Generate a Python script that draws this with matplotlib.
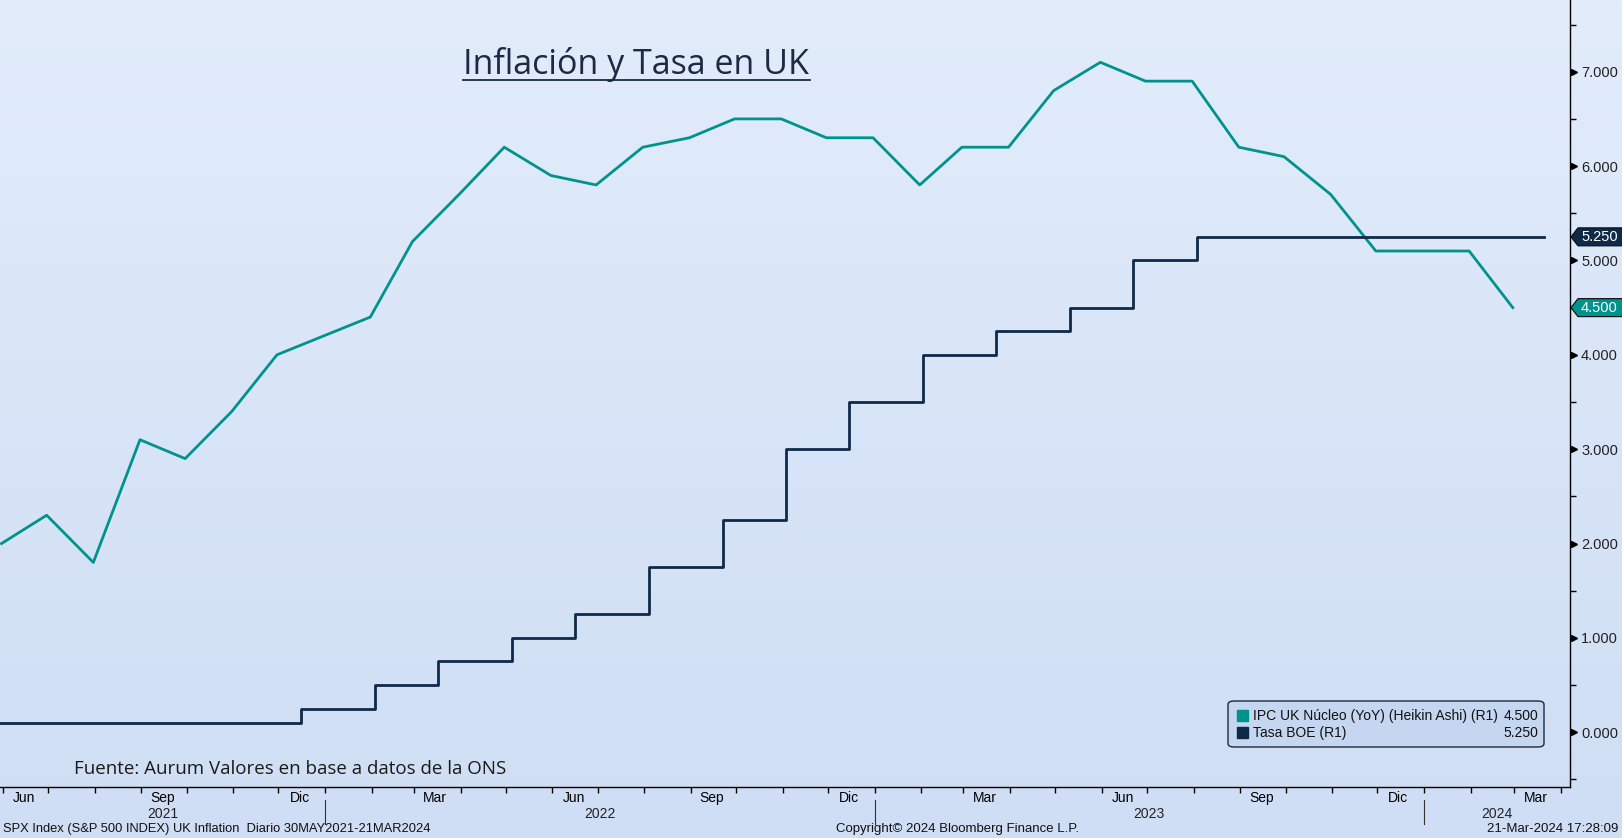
import numpy as np
import pandas as pd
import matplotlib
matplotlib.use("Agg")
import matplotlib.pyplot as plt
import matplotlib.dates as mdates
import matplotlib.transforms as mtransforms
from matplotlib.patches import Polygon, FancyBboxPatch

# ---- data -------------------------------------------------------------
cpi_dates = pd.date_range("2021-05-31", "2024-02-29", freq="ME")
cpi_vals = [2.0, 2.3, 1.8, 3.1, 2.9, 3.4, 4.0, 4.2,
            4.4, 5.2, 5.7, 6.2, 5.9, 5.8, 6.2, 6.3, 6.5, 6.5, 6.3, 6.3,
            5.8, 6.2, 6.2, 6.8, 7.1, 6.9, 6.9, 6.2, 6.1, 5.7, 5.1, 5.1,
            5.1, 4.5]

boe_dates = pd.to_datetime(["2020-03-19", "2021-12-16", "2022-02-03", "2022-03-17",
                            "2022-05-05", "2022-06-16", "2022-08-04", "2022-09-22",
                            "2022-11-03", "2022-12-15", "2023-02-02", "2023-03-23",
                            "2023-05-11", "2023-06-22", "2023-08-03", "2024-03-21"])
boe_vals = [0.1, 0.25, 0.5, 0.75, 1.0, 1.25, 1.75, 2.25, 3.0, 3.5, 4.0, 4.25,
            4.5, 5.0, 5.25, 5.25]

month_names = {3: "Mar", 6: "Jun", 9: "Sep", 12: "Dic"}
years = [2021, 2022, 2023, 2024]

teal = "#00938c"
navy = "#0f2a48"
W, H = 1622, 838
sans = "Liberation Sans"

fig = plt.figure(figsize=(W / 100, H / 100), dpi=100)

# gradient background
bg = fig.add_axes([0, 0, 1, 1], zorder=-10)
grad = np.linspace(0, 1, 256).reshape(-1, 1)
top_c = np.array([226, 236, 251]) / 255
bot_c = np.array([207, 222, 244]) / 255
img = top_c[None, None, :] * (1 - grad[:, :, None]) + bot_c[None, None, :] * grad[:, :, None]
bg.imshow(img, aspect="auto", extent=[0, 1, 0, 1])
bg.axis("off")

ax = fig.add_axes([0, 51 / H, 1570 / W, 1 - 51 / H])
ax.set_facecolor("none")

xmin, xmax = pd.Timestamp("2021-05-30"), pd.Timestamp("2024-04-07")
ax.set_xlim(xmin, xmax)
ax.set_ylim(-0.58, 7.76)

ax.plot(cpi_dates, cpi_vals, color=teal, lw=2.0, solid_joinstyle="round")
ax.plot(boe_dates, boe_vals, color=navy, lw=2.0, drawstyle="steps-post")

# spines
for s in ["left", "top"]:
    ax.spines[s].set_visible(False)
ax.spines["right"].set_linewidth(1.0)
ax.spines["bottom"].set_linewidth(1.0)

# y axis on right
ax.yaxis.tick_right()
ax.set_yticks(range(0, 8))
ax.set_yticklabels([f"{v:.3f}" for v in range(0, 8)])
ax.set_yticks(np.arange(-0.5, 7.6, 1.0), minor=True)
ax.tick_params(axis="y", which="major", length=0, pad=8, labelsize=10.5, labelcolor="#222222")
ax.tick_params(axis="y", which="minor", length=4, width=1, direction="out")
for lab in ax.get_yticklabels():
    lab.set_fontfamily(sans)
arrow_tr = mtransforms.offset_copy(ax.get_yaxis_transform(), fig=fig, x=4, y=0, units="dots")
ax.plot([1.0] * 8, range(0, 8), ls="none", marker=">", ms=5, color="black",
        transform=arrow_tr, clip_on=False)

# x axis: ticks at month boundaries, labels at mid-month
month_starts = pd.date_range("2021-06-01", "2024-04-01", freq="MS")
ax.set_xticks(mdates.date2num(month_starts))
ax.set_xticklabels([])
ax.tick_params(axis="x", which="major", length=4, width=1, direction="out")
lab_dates = [d + pd.Timedelta(days=14) for d in month_starts if d.month in month_names]
ax.set_xticks(mdates.date2num(lab_dates), minor=True)
ax.set_xticklabels([month_names[d.month] for d in lab_dates], minor=True)
ax.tick_params(axis="x", which="minor", length=0, pad=3, labelsize=10)
for lab in ax.get_xticklabels(minor=True):
    lab.set_fontfamily(sans)

# year row
xtr = ax.get_xaxis_transform()
for yr in years:
    lo = max(pd.Timestamp(f"{yr}-01-01"), xmin)
    hi = min(pd.Timestamp(f"{yr + 1}-01-01"), xmax)
    mid = lo + (hi - lo) / 2
    ax.text(mid, -27 / 787, str(yr), transform=xtr, ha="center", va="center",
            fontsize=10, family=sans, color="#222222")
    if yr > 2021:
        ax.plot([pd.Timestamp(f"{yr}-01-01")] * 2, [-13 / 787, -37 / 787], color="#333333",
                lw=0.8, transform=xtr, clip_on=False)

# title
fig.text(636 / W, 1 - 65 / H, "Inflación y Tasa en UK", ha="center", va="center",
         fontsize=24.5, family="Open Sans", color="#1c2a44")
fig.add_artist(plt.Line2D([463 / W, 810 / W], [1 - 80 / H, 1 - 80 / H], color="#1c2a44", lw=1.3))

fig.text(74 / W, 1 - 769 / H, "Fuente: Aurum Valores en base a datos de la ONS",
         ha="left", va="center", fontsize=13.5, family="Open Sans", color="#1a1a1a")

# footer
fig.text(3 / W, 1 - 829 / H, "SPX Index (S&P 500 INDEX) UK Inflation  Diario 30MAY2021-21MAR2024",
         ha="left", va="center", fontsize=9.3, family=sans, color="#111111")
fig.text(958 / W, 1 - 829 / H, "Copyright\u00a9 2024 Bloomberg Finance L.P.",
         ha="center", va="center", fontsize=9.5, family=sans, color="#111111")
fig.text(1618 / W, 1 - 829 / H, "21-Mar-2024 17:28:09",
         ha="right", va="center", fontsize=9.5, family=sans, color="#111111")

# legend
leg = FancyBboxPatch((1228 / W, 1 - 747 / H), 316 / W, 46 / H,
                     boxstyle="round,pad=0,rounding_size=0.004", transform=fig.transFigure,
                     facecolor="#c4d6f0", edgecolor="#1a2a3a", lw=1.0)
fig.add_artist(leg)
for yy, col, name, val in [(716, teal, "IPC UK Núcleo (YoY) (Heikin Ashi) (R1)", cpi_vals[-1]),
                           (733, navy, "Tasa BOE (R1)", boe_vals[-1])]:
    fig.add_artist(plt.Rectangle((1237 / W, 1 - (yy + 5) / H), 11 / W, 11 / H,
                                 transform=fig.transFigure, color=col))
    fig.text(1253 / W, 1 - yy / H, name, ha="left", va="center", fontsize=10,
             family=sans, color="#111111")
    fig.text(1538 / W, 1 - yy / H, f"{val:.3f}", ha="right", va="center", fontsize=10,
             family=sans, color="#111111")

# last value tags
for val, col in [(boe_vals[-1], navy), (cpi_vals[-1], teal)]:
    _, ypix = ax.transData.transform((mdates.date2num(xmax), val))
    x0 = 1571
    pts = [(x0, ypix), (x0 + 7, ypix + 9), (W + 2, ypix + 9), (W + 2, ypix - 9), (x0 + 7, ypix - 9)]
    pts = [(px / W, py / H) for px, py in pts]
    fig.add_artist(Polygon(pts, closed=True, transform=fig.transFigure, facecolor=col,
                           edgecolor="#0a0a0a", lw=0.8))
    fig.text(1581 / W, ypix / H, f"{val:.3f}", ha="left", va="center", fontsize=10.5,
             family=sans, color="white")

fig.savefig("out.png", dpi=100)
